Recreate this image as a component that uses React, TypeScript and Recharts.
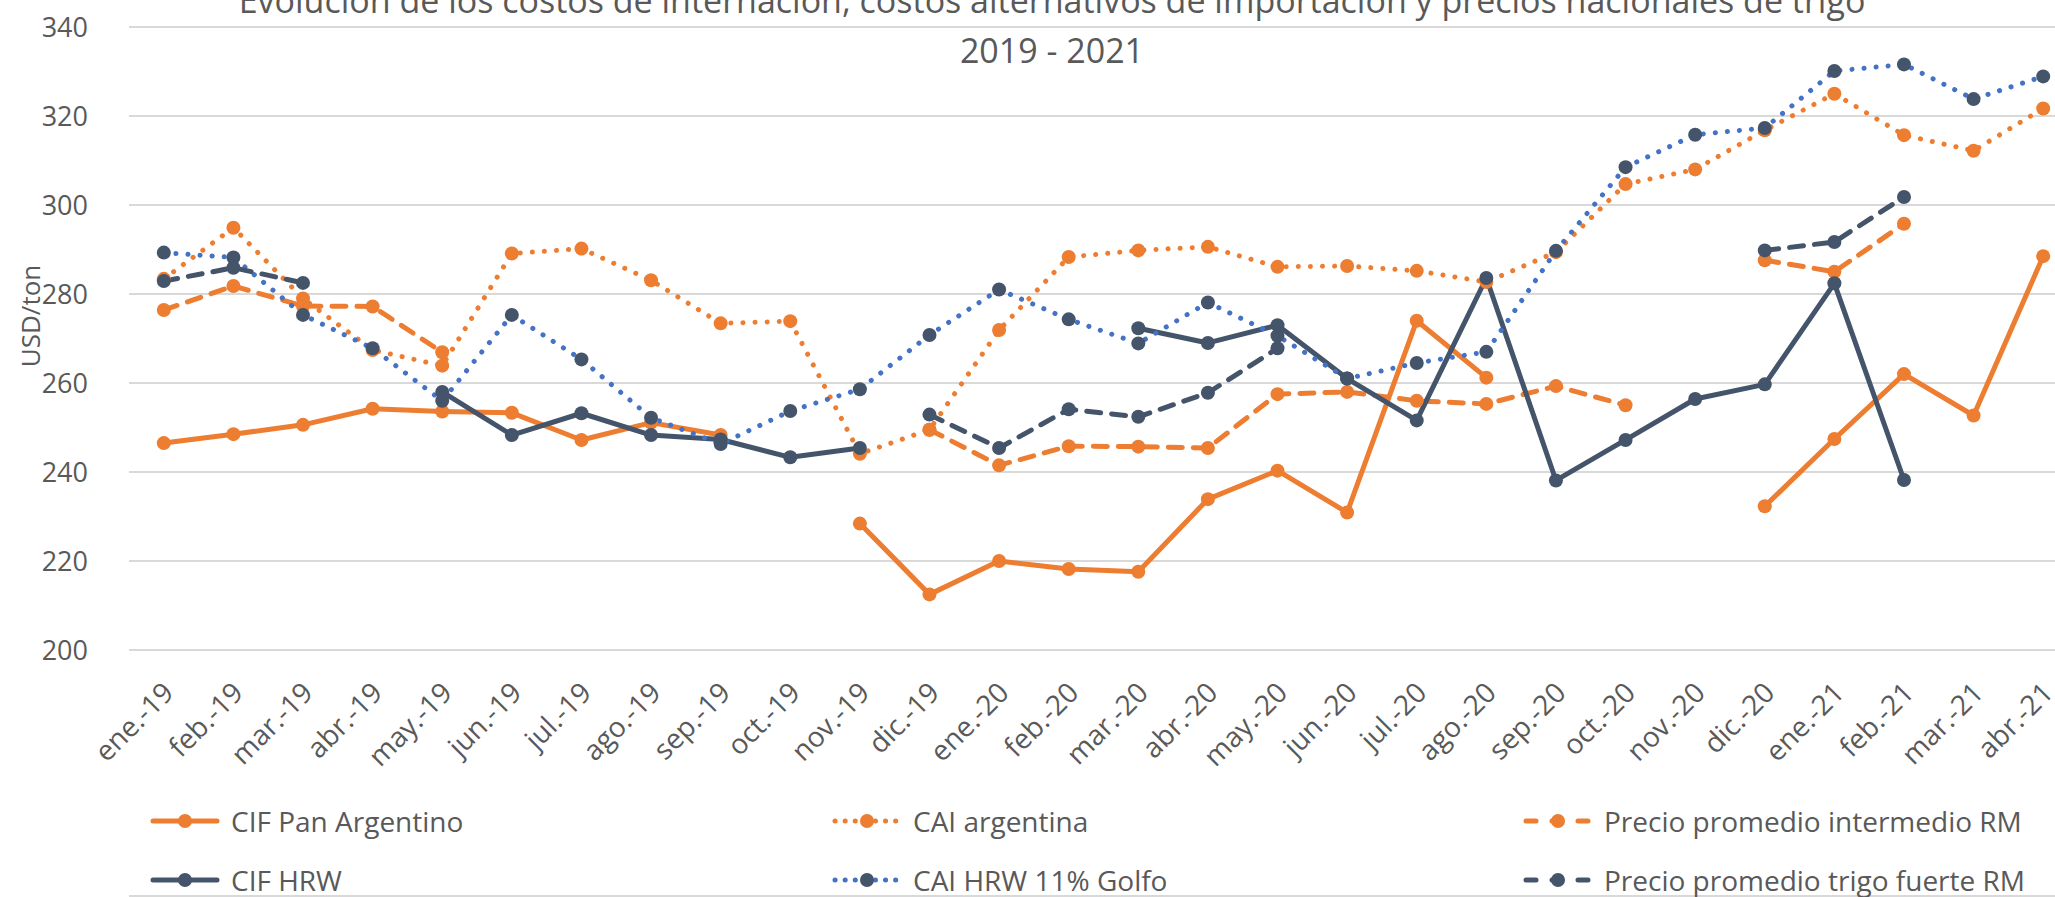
import React from "react";
import { CartesianGrid, LineChart, Line, XAxis, YAxis } from "recharts";

const months = [
  "ene.-19", "feb.-19", "mar.-19", "abr.-19", "may.-19", "jun.-19", "jul.-19",
  "ago.-19", "sep.-19", "oct.-19", "nov.-19", "dic.-19", "ene.-20", "feb.-20",
  "mar.-20", "abr.-20", "may.-20", "jun.-20", "jul.-20", "ago.-20", "sep.-20",
  "oct.-20", "nov.-20", "dic.-20", "ene.-21", "feb.-21", "mar.-21", "abr.-21",
];

const cifPanArgentino = [
  246.5, 248.5, 250.6, 254.2, 253.6, 253.3, 247.2, 251.1, 248.3, null, 228.4, 212.5, 220.0, 218.2,
  217.6, 233.9, 240.3, 230.9, 274.0, 261.2, null, null, null, 232.3, 247.4, 262.0, 252.7, 288.5,
];
const caiArgentina = [
  283.4, 294.9, 279.0, 267.4, 263.9, 289.1, 290.2, 283.1, 273.4, 273.9, 244.1, 249.5, 271.9, 288.3,
  289.8, 290.6, 286.1, 286.3, 285.2, 282.7, 289.4, 304.7, 308.0, 316.8, 325.0, 315.7, 312.2, 321.7,
];
const precioIntermedio = [
  276.4, 281.8, 277.3, 277.2, 266.9, null, null, null, null, null, null, 249.5, 241.5, 245.8,
  245.7, 245.4, 257.5, 258.0, 256.0, 255.3, 259.3, 255.0, null, 287.6, 285.0, 295.8, null, null,
];
const cifHrw = [
  null, null, null, null, 258.0, 248.3, 253.2, 248.3, 247.3, 243.3, 245.4, null, null, null,
  272.3, 269.0, 273.0, 261.0, 251.6, 283.6, 238.1, 247.2, 256.4, 259.7, 282.4, 238.2, null, null,
];
const caiHrw = [
  289.3, 288.2, 275.3, 267.8, 256.0, 275.3, 265.3, 252.2, 246.3, 253.7, 258.6, 270.8, 281.0, 274.3,
  268.9, 278.1, 270.6, 261.0, 264.5, 267.0, 289.7, 308.5, 315.8, 317.3, 330.1, 331.6, 323.8, 328.9,
];
const precioFuerte = [
  282.9, 285.9, 282.5, null, null, null, null, null, null, null, null, 252.9, 245.4, 254.1,
  252.4, 257.8, 267.8, null, null, null, null, null, null, 289.8, 291.7, 301.8, null, null,
];

const yTicks = [200, 220, 240, 260, 280, 300, 320, 340];

const ORANGE = "#ED7D31";
const NAVY = "#44546A";
const BLUE = "#4472C4";
const TEXT = "#595959";
const GRID = "#D9D9D9";
const FONT = "'Open Sans', Lato, sans-serif";

const DOTTED = "0.1 12";
const DASHED = "14 11";

const series = [
  { key: "cifPan", name: "CIF Pan Argentino", values: cifPanArgentino, stroke: ORANGE, marker: ORANGE, dash: undefined },
  { key: "caiArg", name: "CAI argentina", values: caiArgentina, stroke: ORANGE, marker: ORANGE, dash: DOTTED },
  { key: "precioInt", name: "Precio promedio intermedio RM", values: precioIntermedio, stroke: ORANGE, marker: ORANGE, dash: DASHED },
  { key: "cifHrw", name: "CIF HRW", values: cifHrw, stroke: NAVY, marker: NAVY, dash: undefined },
  { key: "caiHrw", name: "CAI HRW 11% Golfo", values: caiHrw, stroke: BLUE, marker: NAVY, dash: DOTTED },
  { key: "precioFuerte", name: "Precio promedio trigo fuerte RM", values: precioFuerte, stroke: NAVY, marker: NAVY, dash: DASHED },
];

const data = months.map((m, i) => {
  const row: Record<string, any> = { pos: i + 0.5, month: m };
  series.forEach((s) => {
    row[s.key] = s.values[i];
  });
  return row;
});

const boundaries = months.map((_, i) => i).concat([months.length]);
const centers = months.map((_, i) => i + 0.5);

function MonthTick(props: any) {
  const { x, y, payload } = props;
  const label = months[Math.floor(payload.value)];
  return (
    <g transform={`translate(${x + 5},${y + 38})`}>
      <text
        textAnchor="end"
        transform="rotate(-45)"
        dy="0.33em"
        fontSize={28}
        fill={TEXT}
        fontFamily={FONT}
      >
        {label}
      </text>
    </g>
  );
}

// legend: x where each column's text starts, and row centre lines
const legendTextX = [231, 913, 1604];
const legendRows = [821, 880];

function LegendIcon({ stroke, marker, dash }: { stroke: string; marker: string; dash?: string }) {
  return (
    <svg width={72} height={20} style={{ display: "block" }}>
      <line
        x1={4}
        y1={10}
        x2={68}
        y2={10}
        stroke={stroke}
        strokeWidth={5}
        strokeLinecap="round"
        strokeDasharray={dash === DASHED ? "10 16" : dash === DOTTED ? "0.1 10" : undefined}
      />
      <circle cx={36} cy={10} r={7} fill={marker} />
    </svg>
  );
}

export default function App() {
  return (
    <div
      style={{
        position: "absolute",
        left: 0,
        top: 0,
        width: 2055,
        height: 897,
        overflow: "hidden",
        background: "#fff",
        fontFamily: FONT,
      }}
    >
      <LineChart width={2090} height={897} data={data} margin={{ top: 27, right: 12, left: 0, bottom: 0 }}>
        <CartesianGrid vertical={false} stroke={GRID} strokeWidth={2} />
        <XAxis
          xAxisId="bounds"
          dataKey="pos"
          type="number"
          domain={[0, months.length]}
          ticks={boundaries}
          height={1}
          tick={false}
          tickSize={10}
          axisLine={{ stroke: GRID, strokeWidth: 2 }}
          tickLine={{ stroke: GRID, strokeWidth: 2 }}
        />
        <XAxis
          dataKey="pos"
          type="number"
          domain={[0, months.length]}
          ticks={centers}
          interval={0}
          height={246}
          axisLine={false}
          tickLine={false}
          tickSize={0}
          tickMargin={0}
          tick={<MonthTick />}
        />
        <YAxis
          type="number"
          domain={[200, 340]}
          ticks={yTicks}
          width={129}
          axisLine={false}
          tickLine={false}
          tickSize={0}
          tickMargin={41}
          tick={{ fontSize: 27, fill: TEXT, fontFamily: FONT }}
        />
        {series.map((s) => (
          <Line
            key={s.key}
            dataKey={s.key}
            name={s.name}
            stroke={s.stroke}
            strokeWidth={5}
            strokeDasharray={s.dash}
            strokeLinecap="round"
            strokeLinejoin="round"
            type="linear"
            dot={{ r: 7, fill: s.marker, stroke: s.marker, strokeWidth: 0, strokeDasharray: "none" }}
            activeDot={false}
            isAnimationActive={false}
          />
        ))}
      </LineChart>

      <svg
        width={2055}
        height={897}
        style={{ position: "absolute", left: 0, top: 0, pointerEvents: "none" }}
      >
        <text x={1052} y={13} textAnchor="middle" fontSize={34} fill={TEXT} fontFamily={FONT}>
          Evolución de los costos de internación, costos alternativos de importación y precios nacionales de trigo
        </text>
        <text x={1052} y={63} textAnchor="middle" fontSize={34} fill={TEXT} fontFamily={FONT}>
          2019 - 2021
        </text>
        <text
          transform="translate(30,316) rotate(-90)"
          textAnchor="middle"
          dominantBaseline="central"
          fontSize={26}
          fill={TEXT}
          fontFamily={FONT}
        >
          USD/ton
        </text>
      </svg>

      {series.map((s, i) => (
        <div
          key={s.key}
          style={{
            position: "absolute",
            left: legendTextX[i % 3] - 82,
            top: legendRows[Math.floor(i / 3)] - 16,
            height: 32,
            display: "flex",
            alignItems: "center",
            whiteSpace: "nowrap",
          }}
        >
          <LegendIcon stroke={s.stroke} marker={s.marker} dash={s.dash} />
          <span style={{ marginLeft: 10, fontSize: 28, lineHeight: "32px", color: TEXT, fontFamily: FONT }}>
            {s.name}
          </span>
        </div>
      ))}
    </div>
  );
}
